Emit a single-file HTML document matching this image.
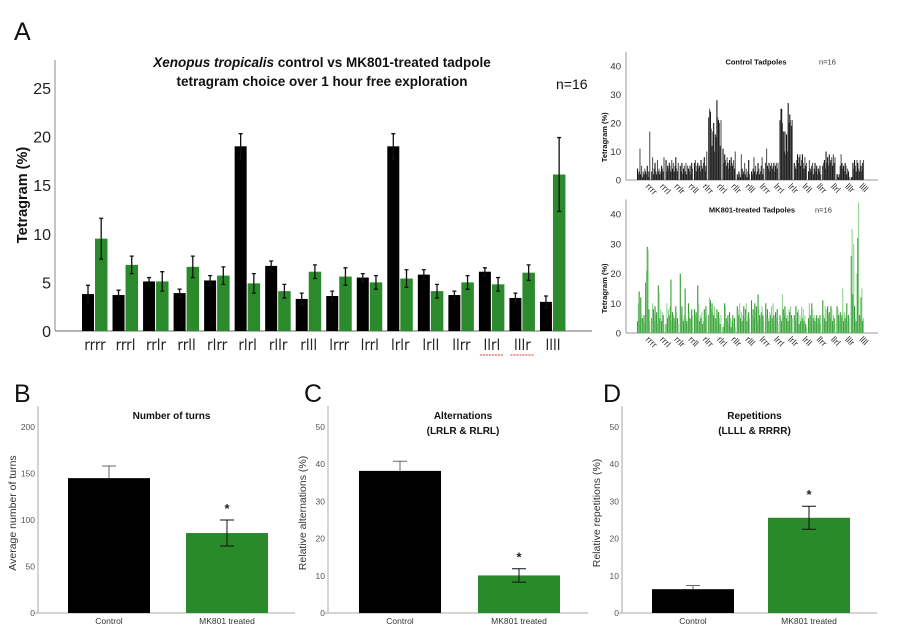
<!DOCTYPE html>
<html><head><meta charset="utf-8"><style>
html,body{margin:0;padding:0;background:#fff;}
svg{display:block;font-family:"Liberation Sans",sans-serif;}
</style></head><body>
<svg id="fig" width="920" height="640" viewBox="0 0 920 640" xmlns="http://www.w3.org/2000/svg">
<text x="14" y="40" font-size="25" fill="#111">A</text>
<text x="14" y="402" font-size="25" fill="#111">B</text>
<text x="304" y="402" font-size="25" fill="#111">C</text>
<text x="603" y="402" font-size="25" fill="#111">D</text>
<g id="main"></g>
<g id="ctrl"></g>
<g id="mk"></g>
<g id="cb"></g>
<g id="cc"></g>
<g id="cd"></g>
</svg>
<script>
// ===== Data =====
const categories = ["rrrr","rrrl","rrlr","rrll","rlrr","rlrl","rllr","rlll","lrrr","lrrl","lrlr","lrll","llrr","llrl","lllr","llll"];
const controlMeans = [3.8,3.7,5.1,3.9,5.2,19.0,6.7,3.3,3.6,5.5,19.0,5.8,3.7,6.1,3.4,3.0];
const controlErr = [0.9,0.5,0.4,0.4,0.5,1.3,0.5,0.6,0.5,0.4,1.3,0.5,0.4,0.4,0.5,0.6];
const mkMeans = [9.5,6.8,5.1,6.6,5.7,4.9,4.1,6.1,5.6,5.0,5.4,4.1,5.0,4.8,6.0,16.1];
const mkErr = [2.1,0.9,1.0,1.1,0.9,1.0,0.7,0.7,0.9,0.7,0.9,0.7,0.7,0.7,0.8,3.8];
const mainTicks = [0,5,10,15,20,25];

const controlIndiv = [
 [4,2,3,11,2,5,1,3,2,4,3,2,5,1,3,17],
 [3,8,2,4,6,3,2,7,3,4,2,3,5,4,3,8],
 [7,3,5,4,6,5,3,7,4,6,3,5,8,4,3,6],
 [5,3,6,2,4,5,3,6,2,5,4,3,5,2,6,4],
 [6,7,3,5,6,4,5,3,7,5,4,6,8,3,5,10],
 [22,25,24,18,12,17,20,10,16,15,28,22,21,20,12,21],
 [11,6,9,7,5,8,6,4,7,5,8,6,5,7,4,10],
 [2,1,3,2,1,9,4,2,3,6,2,4,1,3,7,2],
 [3,2,4,8,3,5,2,3,6,4,2,3,5,8,2,4],
 [6,11,5,4,6,3,5,6,4,5,6,3,5,6,4,6],
 [21,25,25,20,17,10,17,9,16,10,27,20,23,21,19,21],
 [6,5,4,7,9,6,8,9,5,7,9,6,4,8,5,6],
 [3,7,4,3,5,6,2,4,6,3,5,2,4,3,5,2],
 [5,6,7,4,10,6,8,5,9,6,7,8,5,9,6,8],
 [2,2,1,2,5,9,6,4,5,3,6,5,2,4,3,1],
 [1,1,6,4,7,5,3,7,6,4,3,7,5,3,6,7]
];
const mkIndiv = [
 [4,10,14,5,12,6,5,4,6,3,17,21,29,28,8,4],
 [5,10,8,4,9,6,7,3,16,14,5,8,4,7,6,3],
 [3,10,5,8,6,9,18,4,7,6,5,4,9,7,5,3],
 [20,6,9,5,4,6,15,5,4,3,10,7,5,4,8,6],
 [8,6,7,5,16,10,4,6,5,7,3,4,8,5,9,6],
 [6,12,11,8,10,7,6,9,5,4,8,6,7,5,3,6],
 [2,3,10,9,5,4,6,3,7,5,2,4,6,3,5,2],
 [9,8,6,10,5,7,4,6,9,5,8,10,4,6,7,5],
 [11,6,8,5,10,7,9,4,13,8,6,5,7,9,6,4],
 [10,6,8,5,4,7,6,9,5,10,6,4,7,5,8,3],
 [6,5,4,13,8,6,9,7,5,6,4,8,7,9,6,5],
 [6,4,9,5,7,8,3,6,4,9,5,8,4,6,3,2],
 [5,10,6,4,10,8,5,6,4,5,6,3,5,4,6,3],
 [11,6,5,9,4,8,9,6,7,5,9,8,4,6,5,3],
 [9,8,6,4,7,5,6,15,4,7,5,6,10,4,6,5],
 [26,35,13,30,9,5,4,20,32,44,6,5,12,15,4,5]
];

const barLabels = ["Control","MK801 treated"];
const turnsMeans = [145, 86];
const turnsErr = [13, 14];
const turnsTicks = [0,50,100,150,200];
const altMeans = [38.2, 10.1];
const altErr = [2.6, 1.8];
const repMeans = [6.4, 25.6];
const repErr = [1.0, 3.1];
const pctTicks = [0,10,20,30,40,50];

// ===== Helpers =====
const NS = "http://www.w3.org/2000/svg";
function mk(tag, attrs, parent){const e=document.createElementNS(NS,tag);for(const k in attrs)e.setAttribute(k,attrs[k]);parent.appendChild(e);return e;}

// ===== Main chart =====
(function(){
 const g=document.getElementById('main');
 const x0=55, zeroY=331, unit=48.6/5, xEnd=592;
 const y=v=>zeroY-v*unit;
 const gx=i=>95+i*30.53;
 let ax=mk('line',{x1:x0,y1:60,x2:x0,y2:zeroY,stroke:'#888','stroke-width':1},g);
 
 let xa=mk('line',{x1:x0,y1:zeroY,x2:xEnd,y2:zeroY,stroke:'#888','stroke-width':1.2},g);
 
 mainTicks.forEach(t=>{
  const e=mk('text',{x:51,y:y(t)+6,'font-size':16,'text-anchor':'end',fill:'#222'},g);e.textContent=t;
  
 });
 categories.forEach((c,i)=>{
  const cx=gx(i);
  const b=mk('rect',{x:cx-13,y:y(controlMeans[i]),width:12,height:controlMeans[i]*unit,fill:'#000'},g);
  
  const b2=mk('rect',{x:cx,y:y(mkMeans[i]),width:12.5,height:mkMeans[i]*unit,fill:'#2b8a2b'},g);
  
  [[cx-7,controlMeans[i],controlErr[i]],[cx+6.2,mkMeans[i],mkErr[i]]].forEach(([ex,m,er])=>{
   const eb=mk('path',{d:`M${ex},${y(m+er)}V${y(m-er)}M${ex-2},${y(m+er)}H${ex+2}M${ex-2},${y(m-er)}H${ex+2}`,stroke:'#111','stroke-width':1.3,fill:'none'},g);
   
  });
  const t=mk('text',{x:cx,y:350,'font-size':15,'text-anchor':'middle',fill:'#222','font-family':'"DejaVu Sans Condensed","Liberation Sans",sans-serif'},g);
  t.textContent=c;
  
  if(c==='llrl'||c==='lllr'){
   const u=mk('path',{d:`M${cx-12},${355}h24`,stroke:'#d33','stroke-width':1,'stroke-dasharray':'2,1'},g);
   
  }
 });
 const tt=mk('text',{x:322,y:67,'font-size':13.5,'font-weight':'bold','text-anchor':'middle',fill:'#111'},g);
 tt.innerHTML='<tspan font-style="italic">Xenopus tropicalis</tspan> control vs MK801-treated tadpole';
 
 const t2=mk('text',{x:322,y:86,'font-size':13.5,'font-weight':'bold','text-anchor':'middle',fill:'#111'},g);
 t2.textContent='tetragram choice over 1 hour free exploration';
 
 const n=mk('text',{x:556,y:89,'font-size':14,fill:'#111'},g);n.textContent='n=16';
 
 const yt=mk('text',{x:0,y:0,'font-size':14.5,'font-weight':'bold','text-anchor':'middle',fill:'#111',transform:'translate(27,195) rotate(-90)'},g);
 yt.textContent='Tetragram (%)';
 
})();

// ===== Small individual charts =====
function smallChart(id,data,zeroY,unit,ticks,title,titleX,colors){
 const g=document.getElementById(id);
 const x0=626,xEnd=878,y=v=>zeroY-v*unit;
 const a1=mk('line',{x1:x0,y1:zeroY-45*unit,x2:x0,y2:zeroY,stroke:'#999'},g);
 
 const a2=mk('line',{x1:x0,y1:zeroY,x2:xEnd,y2:zeroY,stroke:'#999'},g);
 
 ticks.forEach(t=>{
  const e=mk('text',{x:621,y:y(t)+3.5,'font-size':9.5,'text-anchor':'end',fill:'#333'},g);e.textContent=t;
  
 });
 const gw=14.25,bw=gw/17.5;
 data.forEach((grp,gi)=>{
  const gx0=637+gi*gw;
  grp.forEach((v,k)=>{
   const r=mk('rect',{x:gx0+k*bw,y:y(v),width:bw+0.25,height:v*unit,fill:colors[k%2]},g);
   
  });
  const lx=gx0+gw/2+1,ly=zeroY+7;
  const t=mk('text',{x:lx,y:ly,'font-size':9,fill:'#333',transform:`rotate(45 ${lx} ${ly})`},g);
  t.textContent=categories[gi];
  
 });
 const tt=mk('text',{x:titleX,y:zeroY-40.5*unit,'font-size':7.5,'font-weight':'bold','text-anchor':'middle',fill:'#111'},g);tt.textContent=title;
 
 const n=mk('text',{x:titleX+63,y:zeroY-40.5*unit,'font-size':7.5,fill:'#333'},g);n.textContent='n=16';
 
 const yt=mk('text',{x:0,y:0,'font-size':7.5,'font-weight':'bold','text-anchor':'middle',fill:'#111',transform:`translate(607,${zeroY-15*unit}) rotate(-90)`},g);
 yt.textContent='Tetragram (%)';
 
}
smallChart('ctrl',controlIndiv,180,2.85,[0,10,20,30,40],'Control Tadpoles',756,['#111','#555']);
smallChart('mk',mkIndiv,333,2.97,[0,10,20,30,40],'MK801-treated Tadpoles',752,['#2a9a2a','#8fd08f']);

// ===== Bottom bar charts =====
function barChart(id,x0,xEnd,bars,means,errs,maxV,ticks,titles,ylabel,stars){
 const g=document.getElementById(id);
 const zeroY=613,topY=427,unit=(zeroY-topY)/maxV,y=v=>zeroY-v*unit;
 const a1=mk('line',{x1:x0,y1:406,x2:x0,y2:zeroY,stroke:'#aaa'},g);
 
 const a2=mk('line',{x1:x0-3,y1:zeroY,x2:xEnd,y2:zeroY,stroke:'#aaa'},g);
 
 ticks.forEach(t=>{
  const e=mk('text',{x:x0-3,y:y(t)+3,'font-size':8.5,'text-anchor':'end',fill:'#555'},g);e.textContent=t;
  
 });
 const cols=['#000','#2a8a2a'];
 means.forEach((m,i)=>{
  const bx=bars[i];
  const r=mk('rect',{x:bx,y:y(m),width:82,height:m*unit,fill:cols[i]},g);
  
  const cx=bx+41;
  const lo=i===0?m:m-errs[i];
  const eb=mk('path',{d:`M${cx},${y(m+errs[i])}V${y(lo)}M${cx-7},${y(m+errs[i])}H${cx+7}`+(i===0?'':`M${cx-7},${y(lo)}H${cx+7}`),stroke:i===0?'#666':'#111','stroke-width':1,fill:'none'},g);
  
  const l=mk('text',{x:cx,y:624,'font-size':8.5,'text-anchor':'middle',fill:'#333'},g);l.textContent=barLabels[i];
  
  if(stars[i]){
   const s=mk('text',{x:cx,y:y(m+errs[i])-7,'font-size':13,'font-weight':'bold','text-anchor':'middle',fill:'#222'},g);s.textContent='*';
   
  }
 });
 titles.forEach((t,k)=>{
  const e=mk('text',{x:(x0+xEnd)/2+5,y:419+k*15,'font-size':10,'font-weight':'bold','text-anchor':'middle',fill:'#111'},g);e.textContent=t;
  
 });
 const yt=mk('text',{x:0,y:0,'font-size':10.5,'text-anchor':'middle',fill:'#333',transform:`translate(${x0-22},${513}) rotate(-90)`},g);
 yt.textContent=ylabel;
 
}
barChart('cb',38,295,[68,186],turnsMeans,turnsErr,200,turnsTicks,['Number of turns'],'Average number of turns',[false,true]);
barChart('cc',328,588,[359,478],altMeans,altErr,50,pctTicks,['Alternations','(LRLR & RLRL)'],'Relative alternations (%)',[false,true]);
barChart('cd',622,877,[652,768],repMeans,repErr,50,pctTicks,['Repetitions','(LLLL & RRRR)'],'Relative repetitions (%)',[false,true]);
</script>
</body></html>
